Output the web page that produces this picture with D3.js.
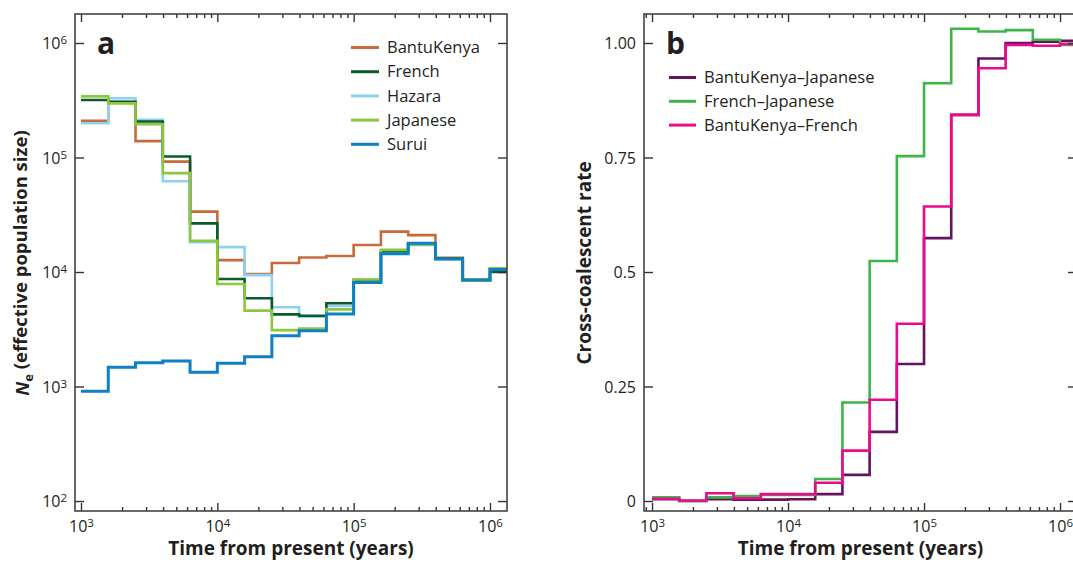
<!DOCTYPE html>
<html>
<head>
<meta charset="utf-8">
<script src="https://cdn.jsdelivr.net/npm/d3@7"></script>
<style>
  html, body { margin: 0; padding: 0; background: #fff; }
  svg { display: block; }
  text { font-family: "Open Sans", "DejaVu Sans", sans-serif; fill: #231f20; }
</style>
</head>
<body>
<svg id="chart" width="1073" height="562"></svg>
<script>
// ---------- DATA ----------
// Bin start edges (years) and final bin end
const binEdges = [1000, 1585, 2512, 3981, 6310, 10000, 15849, 25119, 39811, 63096,
                  100000, 158489, 251189, 398107, 630957, 1000000, 1333000];

// Panel a: effective population size per bin
const neBantuKenya = [2.09e5, 3.05e5, 1.39e5, 9.2e4, 3.37e4, 1.27e4, 9.6e3, 1.2e4, 1.34e4, 1.38e4, 1.72e4, 2.25e4, 2.1e4, 1.33e4, 8.5e3, 1.06e4];
const neFrench     = [3.18e5, 3.07e5, 2.06e5, 1.02e5, 2.66e4, 8.7e3, 5.9e3, 4.27e3, 4.15e3, 5.33e3, 8.5e3, 1.52e4, 1.76e4, 1.32e4, 8.5e3, 1.0e4];
const neHazara     = [1.99e5, 3.29e5, 2.13e5, 6.2e4, 1.82e4, 1.65e4, 9.4e3, 4.92e3, 4.07e3, 5.05e3, 8.2e3, 1.5e4, 1.72e4, 1.3e4, 8.5e3, 1.05e4];
const neJapanese   = [3.42e5, 2.97e5, 1.95e5, 7.3e4, 1.87e4, 7.85e3, 4.6e3, 3.11e3, 3.2e3, 4.72e3, 8.6e3, 1.56e4, 1.75e4, 1.3e4, 8.4e3, 1.08e4];
const neSurui      = [910, 1.47e3, 1.61e3, 1.67e3, 1.33e3, 1.6e3, 1.82e3, 2.78e3, 3.07e3, 4.3e3, 8.1e3, 1.44e4, 1.78e4, 1.3e4, 8.5e3, 1.05e4];

const seriesA = [
  { name: "BantuKenya", color: "#c86b3c", values: neBantuKenya },
  { name: "French",     color: "#0a5c2a", values: neFrench },
  { name: "Hazara",     color: "#8fd1f2", values: neHazara },
  { name: "Japanese",   color: "#8dc63f", values: neJapanese },
  { name: "Surui",      color: "#0f80c4", values: neSurui }
];
const drawOrderA = ["BantuKenya", "Hazara", "French", "Japanese", "Surui"];

// Panel b: cross-coalescent rate per bin
const ccrBantuJapanese = [0.004, 0.0, 0.004, 0.003, 0.003, 0.004, 0.015, 0.057, 0.151, 0.299, 0.574, 0.843, 0.966, 1.000, 1.003, 1.005];
const ccrFrenchJapanese = [0.008, 0.0, 0.008, 0.011, 0.013, 0.013, 0.048, 0.215, 0.524, 0.753, 0.912, 1.031, 1.025, 1.028, 1.007, 0.996];
const ccrBantuFrench   = [0.005, 0.001, 0.017, 0.006, 0.015, 0.015, 0.040, 0.110, 0.221, 0.387, 0.643, 0.843, 0.945, 0.996, 0.994, 0.998];

const seriesB = [
  { name: "BantuKenya\u2013Japanese", color: "#64135f", values: ccrBantuJapanese },
  { name: "French\u2013Japanese",     color: "#3db54a", values: ccrFrenchJapanese },
  { name: "BantuKenya\u2013French",   color: "#ec0a8c", values: ccrBantuFrench }
];

const xMajorTicks = [1e3, 1e4, 1e5, 1e6];
const yTicksA = [1e2, 1e3, 1e4, 1e5, 1e6];
const yTicksB = [0, 0.25, 0.5, 0.75, 1.0];
const yTickLabelsB = ["0", "0.25", "0.5", "0.75", "1.00"];

// ---------- DRAW ----------
const svg = d3.select("#chart");

function supLabel(sel, exps) {
  sel.each(function(d, i) {
    const t = d3.select(this);
    t.text("10");
    t.append("tspan").attr("dy", "-0.42em").attr("font-size", "11.5px").text(exps[i]);
  });
}

function expOf(v) { return String(Math.round(Math.log10(v))); }

function drawFrameAxes(g, x, y, frame, opts) {
  const { left, right, top, bottom } = frame;
  const minor = x.ticks().filter(v => !xMajorTicks.includes(v) && v > x.domain()[0] && v < x.domain()[1]);
  const axB = g.append("g").attr("transform", `translate(0,${bottom})`)
    .call(d3.axisBottom(x).tickValues(xMajorTicks).tickSize(-8).tickPadding(15).tickFormat(expOf));
  axB.selectAll(".tick text").attr("font-size", "16px").attr("dy", "0.35em");
  supLabel(axB.selectAll(".tick text"), xMajorTicks.map(expOf));
  g.append("g").attr("transform", `translate(0,${bottom})`)
    .call(d3.axisBottom(x).tickValues(minor).tickSize(-4).tickFormat(""));
  g.append("g").attr("transform", `translate(0,${top})`)
    .call(d3.axisTop(x).tickValues(xMajorTicks).tickSize(-8).tickFormat(""));
  g.append("g").attr("transform", `translate(0,${top})`)
    .call(d3.axisTop(x).tickValues(minor).tickSize(-4).tickFormat(""));
  const axL = g.append("g").attr("transform", `translate(${left},0)`)
    .call(d3.axisLeft(y).tickValues(opts.yTicks).tickSize(-9).tickPadding(8).tickFormat((d, i) => opts.yLabels[i]));
  axL.selectAll(".tick text").attr("font-size", "16px").attr("dy", "0.35em");
  if (opts.sup) supLabel(axL.selectAll(".tick text"), opts.yTicks.map(expOf));
  g.append("g").attr("transform", `translate(${right},0)`)
    .call(d3.axisRight(y).tickValues(opts.yTicks).tickSize(-9).tickFormat(""));
  g.selectAll(".domain").remove();
  g.selectAll(".tick line").attr("stroke", "#333").attr("stroke-width", 1.4);
  g.selectAll(".tick text").attr("fill", "#231f20").attr("font-family", '"Open Sans", sans-serif');
  g.append("rect").attr("x", left).attr("y", top).attr("width", right - left).attr("height", bottom - top)
    .attr("fill", "none").attr("stroke", "#444").attr("stroke-width", 1.6);
}

function stepPath(x, y, vals) {
  const pts = vals.map((v, i) => [binEdges[i], v]);
  pts.push([binEdges[vals.length], vals[vals.length - 1]]);
  return d3.line().x(d => x(d[0])).y(d => y(d[1])).curve(d3.curveStepAfter)(pts);
}

// ---- Panel a ----
{
  const frame = { left: 75, right: 507, top: 14, bottom: 511 };
  const x = d3.scaleLog().domain([Math.pow(10, 2.956), binEdges[binEdges.length - 1]]).range([frame.left, frame.right]);
  const y = d3.scaleLog().domain([Math.pow(10, 1.913), Math.pow(10, 6.253)]).range([frame.bottom, frame.top]);
  const g = svg.append("g");
  const gl = g.append("g");
  drawOrderA.forEach(n => {
    const s = seriesA.find(d => d.name === n);
    gl.append("path").attr("d", stepPath(x, y, s.values)).attr("fill", "none")
      .attr("stroke", s.color).attr("stroke-width", n === "Surui" ? 3 : 2.6)
      .attr("stroke-linejoin", "miter").attr("stroke-linecap", "butt");
  });
  drawFrameAxes(g, x, y, frame, { yTicks: yTicksA, yLabels: yTicksA.map(expOf), sup: true });
  const lg = g.append("g");
  seriesA.forEach((s, i) => {
    const yy = 47.5 + i * 24.2;
    lg.append("line").attr("x1", 351).attr("x2", 379).attr("y1", yy).attr("y2", yy)
      .attr("stroke", s.color).attr("stroke-width", 3);
    lg.append("text").attr("x", 387).attr("y", yy).attr("dy", "0.35em").attr("font-size", "16.5px").text(s.name);
  });
  g.append("text").attr("x", 97).attr("y", 54).attr("font-size", "30px").attr("font-weight", "bold").text("a");
  g.append("text").attr("x", (frame.left + frame.right) / 2).attr("y", 555).attr("text-anchor", "middle")
    .attr("font-size", "19px").attr("font-weight", "bold").text("Time from present (years)");
  const yl = g.append("text").attr("transform", `translate(29,263) rotate(-90)`).attr("text-anchor", "middle")
    .attr("font-size", "18.5px").attr("font-weight", "bold");
  yl.append("tspan").attr("font-style", "italic").text("N");
  yl.append("tspan").attr("font-size", "13px").attr("dy", "0.3em").text("e");
  yl.append("tspan").attr("dy", "-0.3em").text(" (effective population size)");
}

// ---- Panel b ----
{
  const frame = { left: 644, right: 1077, top: 14, bottom: 511 };
  const x = d3.scaleLog().domain([Math.pow(10, 2.941), binEdges[binEdges.length - 1]]).range([frame.left, frame.left + (6.1249 - 2.941) * 136]);
  const y = d3.scaleLinear().domain([-0.0218, 1.0633]).range([frame.bottom, frame.top]);
  const g = svg.append("g");
  const gl = g.append("g");
  seriesB.forEach(s => {
    gl.append("path").attr("d", stepPath(x, y, s.values)).attr("fill", "none")
      .attr("stroke", s.color).attr("stroke-width", 2.6).attr("stroke-linejoin", "miter");
  });
  drawFrameAxes(g, x, y, frame, { yTicks: yTicksB, yLabels: yTickLabelsB, sup: false });
  const lg = g.append("g");
  seriesB.forEach((s, i) => {
    const yy = 77.5 + i * 23.8;
    lg.append("line").attr("x1", 669).attr("x2", 696).attr("y1", yy).attr("y2", yy)
      .attr("stroke", s.color).attr("stroke-width", 3);
    lg.append("text").attr("x", 704).attr("y", yy).attr("dy", "0.35em").attr("font-size", "16.5px").text(s.name);
  });
  g.append("text").attr("x", 666).attr("y", 54).attr("font-size", "30px").attr("font-weight", "bold").text("b");
  g.append("text").attr("x", (frame.left + frame.right) / 2).attr("y", 555).attr("text-anchor", "middle")
    .attr("font-size", "19px").attr("font-weight", "bold").text("Time from present (years)");
  g.append("text").attr("transform", `translate(591,263) rotate(-90)`).attr("text-anchor", "middle")
    .attr("font-size", "19px").attr("font-weight", "bold").text("Cross-coalescent rate");
}
</script>
</body>
</html>
